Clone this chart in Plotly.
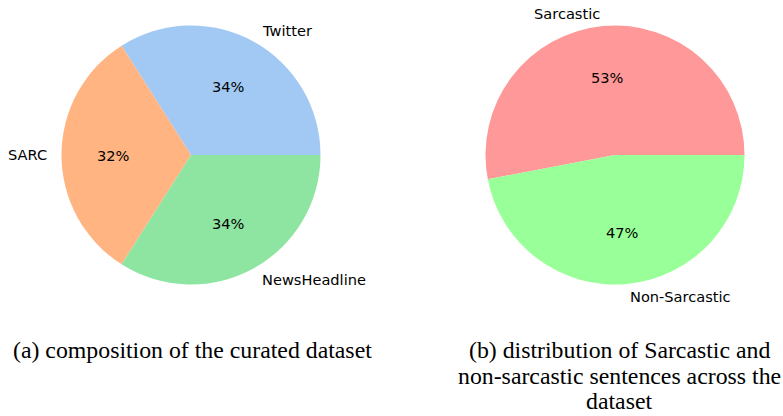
import math
import plotly.graph_objects as go

W, H = 783, 416

# Data
src_labels = ["Twitter", "SARC", "NewsHeadline"]
src_values = [34, 32, 34]
src_colors = ["#a1c9f4", "#ffb482", "#8de5a1"]

cls_labels = ["Sarcastic", "Non-Sarcastic"]
cls_values = [53, 47]
cls_colors = ["#ff9999", "#99ff99"]

caption_a = ["(a) composition of the curated dataset"]
caption_b = ["(b) distribution of Sarcastic and",
             "non-sarcastic sentences across the",
             "dataset"]

# geometry (pixels)
R = 129.5
pies = [
    dict(labels=src_labels, values=src_values, colors=src_colors, cx=191, cy=155),
    dict(labels=cls_labels, values=cls_values, colors=cls_colors, cx=615, cy=155),
]

fig = go.Figure()
annotations = []
label_font = dict(family="DejaVu Sans", size=14.6, color="#000000")

for p in pies:
    cx, cy = p["cx"], p["cy"]
    total = sum(p["values"])
    # plotly (counterclockwise) places the first slice clockwise of `rotation`;
    # shift so the first slice starts at 3 o'clock and runs counterclockwise
    rot = 90 - 360 * p["values"][0] / total
    fig.add_trace(go.Pie(
        labels=p["labels"], values=p["values"],
        marker=dict(colors=p["colors"], line=dict(width=0)),
        sort=False, direction="counterclockwise", rotation=rot,
        textinfo="none", hoverinfo="label+percent", showlegend=False,
        domain=dict(x=[(cx - R) / W, (cx + R) / W],
                    y=[1 - (cy + R) / H, 1 - (cy - R) / H]),
    ))
    start = 0.0
    for lab, v in zip(p["labels"], p["values"]):
        frac = v / total
        mid = math.radians(start + 180 * frac)
        start += 360 * frac
        c, s = math.cos(mid), math.sin(mid)
        # percentage at 0.6 R
        annotations.append(dict(
            x=(cx + 0.6 * R * c) / W, y=1 - (cy - 0.6 * R * s) / H,
            xref="paper", yref="paper", text=f"{round(100 * frac)}%",
            showarrow=False, xanchor="center", yanchor="middle", font=label_font))
        # label at 1.1 R
        annotations.append(dict(
            x=(cx + 1.1 * R * c) / W, y=1 - (cy - 1.1 * R * s) / H,
            xref="paper", yref="paper", text=lab,
            showarrow=False, xanchor="left" if c > 0 else "right",
            yanchor="middle", font=label_font))

cap_font = dict(family="Liberation Serif", size=23.8, color="#000000")
for i, line in enumerate(caption_a):
    annotations.append(dict(x=192 / W, y=1 - (350 + 25.5 * i) / H, xref="paper", yref="paper",
                            text=line, showarrow=False, xanchor="center", yanchor="middle",
                            font=cap_font))
for i, line in enumerate(caption_b):
    annotations.append(dict(x=619 / W, y=1 - (350 + 25.5 * i) / H, xref="paper", yref="paper",
                            text=line, showarrow=False, xanchor="center", yanchor="middle",
                            font=cap_font))

fig.update_layout(
    width=W, height=H, margin=dict(l=0, r=0, t=0, b=0),
    paper_bgcolor="white", plot_bgcolor="white",
    annotations=annotations,
)

fig.write_html("out.html")
